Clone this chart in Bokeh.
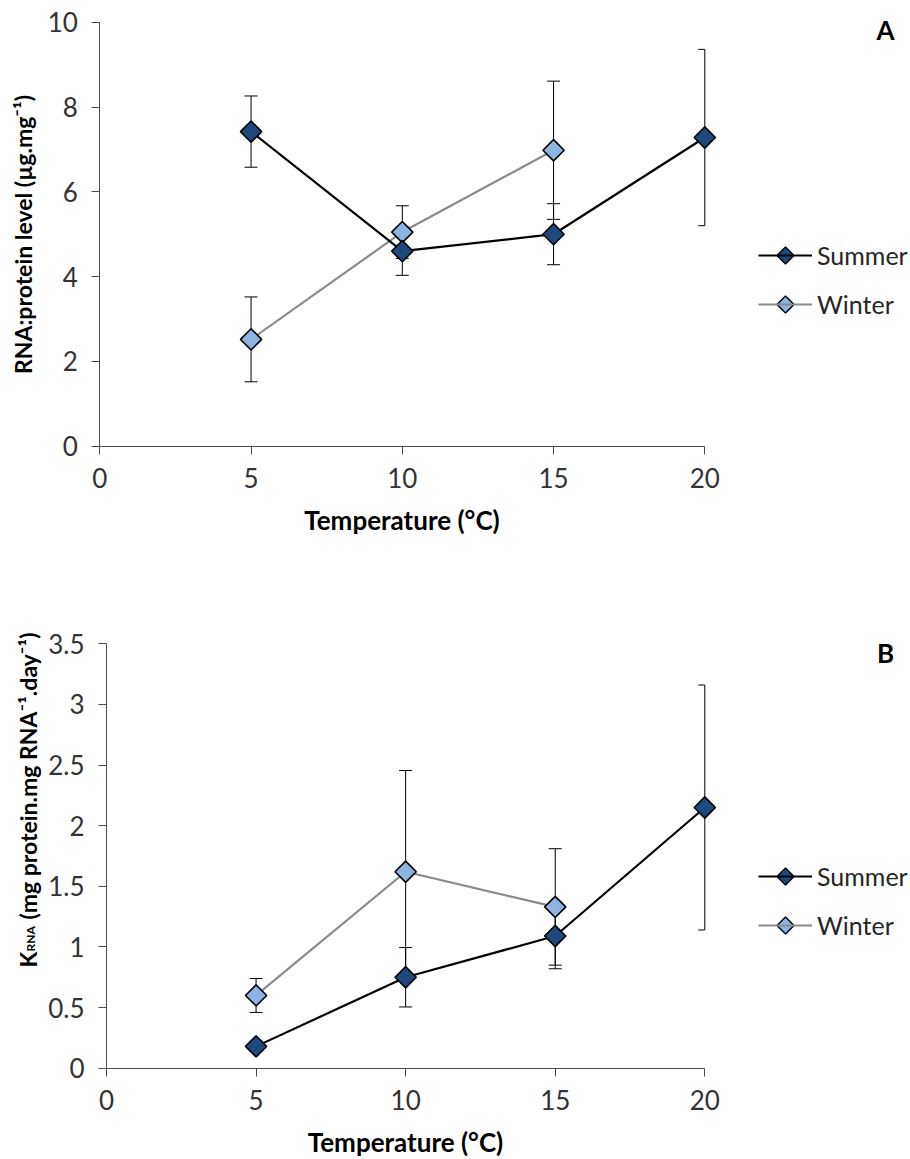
import numpy as np
from bokeh.plotting import figure
from bokeh.layouts import column
from bokeh.models import Range1d, FixedTicker, NumeralTickFormatter, Legend, LegendItem, Label
from bokeh.embed import file_html
from bokeh.resources import INLINE

# ---------------- data ----------------
X_TICKS = [0, 5, 10, 15, 20]
X_AXIS_MAX = 20

# Panel A: RNA:protein level (ug.mg-1)
A_SUMMER_X = [5, 10, 15, 20]
A_SUMMER = [7.42, 4.60, 5.00, 7.28]
A_SUMMER_ERR = [0.84, 0.57, 0.72, 2.08]
A_WINTER_X = [5, 10, 15]
A_WINTER = [2.52, 5.05, 6.98]
A_WINTER_ERR = [1.00, 0.62, 1.63]
A_Y_TICKS = [0, 2, 4, 6, 8, 10]
A_Y_MAX = 10

# Panel B: K_RNA (mg protein.mg RNA-1.day-1)
B_SUMMER_X = [5, 10, 15, 20]
B_SUMMER = [0.18, 0.75, 1.09, 2.15]
B_SUMMER_ERR = [0.04, 0.245, 0.27, 1.01]
B_WINTER_X = [5, 10, 15]
B_WINTER = [0.60, 1.62, 1.33]
B_WINTER_ERR = [0.14, 0.835, 0.48]
B_Y_TICKS = [0, 0.5, 1, 1.5, 2, 2.5, 3, 3.5]
B_Y_MAX = 3.5

SERIES_NAMES = ["Summer", "Winter"]
X_TITLE = "Temperature (°C)"
A_Y_TITLE = "RNA:protein level (µg.mg⁻¹)"

# ---------------- style / geometry (pixels) ----------------
W = 910
FONT = "Lato"
FS = "26px"
YFS = "23px"
SUMMER_FILL = "#1F497D"
WINTER_FILL = "#8DB4E2"
SUMMER_LINE = "#000000"
WINTER_LINE = "#8A8A8A"
AXIS_COLOR = "#4D4D4D"
TICK_TEXT = "#333333"


class Panel:
    def __init__(self, height, x0_px, x20_px, ytop_px, y0_px, y_max):
        self.h = height
        self.x0 = x0_px
        self.ppx = (x20_px - x0_px) / X_AXIS_MAX
        self.y0 = y0_px
        self.ppy = (y0_px - ytop_px) / y_max

    def dx(self, px):
        return (px - self.x0) / self.ppx

    def dy(self, py):
        return (self.y0 - py) / self.ppy


def make_fig(g, y_max, y_ticks):
    p = figure(width=W, height=g.h,
               x_range=Range1d(g.dx(0), g.dx(W)), y_range=Range1d(g.dy(g.h), g.dy(0)),
               output_backend="svg", toolbar_location=None, min_border=0)
    p.outline_line_color = None
    p.grid.visible = False
    p.background_fill_color = "white"
    p.border_fill_color = "white"
    for ax in (p.xaxis[0], p.yaxis[0]):
        ax.fixed_location = 0
        ax.axis_line_color = AXIS_COLOR
        ax.axis_line_width = 1
        ax.major_tick_line_color = AXIS_COLOR
        ax.major_tick_in = 0
        ax.major_tick_out = 8
        ax.minor_tick_line_color = None
        ax.major_label_text_font = FONT
        ax.major_label_text_font_size = FS
        ax.major_label_text_color = TICK_TEXT
        ax.axis_label_text_font = FONT
        ax.axis_label_text_font_style = "bold"
        ax.axis_label_text_color = "#000000"
    p.xaxis.axis_label_text_font_size = FS
    p.yaxis.axis_label_text_font_size = YFS
    p.xaxis.ticker = FixedTicker(ticks=X_TICKS)
    p.xaxis.bounds = (0, X_AXIS_MAX)
    p.xaxis.major_label_standoff = 14
    p.xaxis.axis_label_standoff = 12
    p.xaxis.axis_label = X_TITLE
    p.yaxis.ticker = FixedTicker(ticks=y_ticks)
    p.yaxis.bounds = (0, y_max)
    p.yaxis.major_label_standoff = 14
    p.yaxis.axis_label_standoff = 7
    p.yaxis.formatter = NumeralTickFormatter(format="0.[0]")
    return p


def draw_panel(p, g, sx, sy, se, wx, wy, we):
    cap = 6.5 / g.ppx
    for xs, ys, es in ((wx, wy, we), (sx, sy, se)):
        xs = np.asarray(xs, float)
        ys = np.asarray(ys, float)
        es = np.asarray(es, float)
        p.segment(x0=xs, y0=ys - es, x1=xs, y1=ys + es, line_color="black", line_width=1)
        cx0 = xs - cap
        cx1 = np.minimum(xs + cap, X_AXIS_MAX)
        p.segment(x0=cx0, y0=ys + es, x1=cx1, y1=ys + es, line_color="black", line_width=1)
        p.segment(x0=cx0, y0=ys - es, x1=cx1, y1=ys - es, line_color="black", line_width=1)
    wl = p.line(wx, wy, line_color=WINTER_LINE, line_width=2.2)
    p.scatter(wx, wy, marker="square", angle=np.pi / 4, size=15,
              fill_color=WINTER_FILL, line_color="black", line_width=1.6)
    sl = p.line(sx, sy, line_color=SUMMER_LINE, line_width=2.2)
    p.scatter(sx, sy, marker="square", angle=np.pi / 4, size=15,
              fill_color=SUMMER_FILL, line_color="black", line_width=1.6)
    return sl, wl


def add_legend(p, g, sl, wl, left_px, first_row_center_px):
    row_h, gap, glyph_w = 30, 19, 54
    bottom_px = first_row_center_px + row_h + gap + row_h / 2
    legend = Legend(items=[LegendItem(label=SERIES_NAMES[0], renderers=[sl]),
                           LegendItem(label=SERIES_NAMES[1], renderers=[wl])],
                    location=(left_px, g.h - bottom_px), orientation="vertical")
    legend.glyph_width = glyph_w
    legend.glyph_height = row_h
    legend.label_height = row_h
    legend.label_standoff = 5
    legend.spacing = gap
    legend.padding = 0
    legend.margin = 0
    legend.border_line_alpha = 0
    legend.background_fill_alpha = 0
    legend.label_text_font = FONT
    legend.label_text_font_size = "25px"
    legend.label_text_color = "#262626"
    p.add_layout(legend)
    # diamond symbols of the legend keys, drawn above the legend lines
    cx = g.dx(left_px + glyph_w / 2)
    rows = [first_row_center_px, first_row_center_px + row_h + gap]
    for fill, ry in zip((SUMMER_FILL, WINTER_FILL), rows):
        p.scatter([cx], [g.dy(ry)], marker="square", angle=np.pi / 4, size=12,
                  fill_color=fill, line_color="black", line_width=1.4, level="overlay")


def panel_letter(p, g, text, px, py):
    p.add_layout(Label(x=g.dx(px), y=g.dy(py), text=text, text_font=FONT, text_font_style="bold",
                       text_font_size="26px", text_align="center", text_baseline="middle",
                       text_color="black"))


# ---------------- panel A ----------------
ga = Panel(height=560, x0_px=99.3, x20_px=704.3, ytop_px=21.7, y0_px=445.7, y_max=A_Y_MAX)
pa = make_fig(ga, A_Y_MAX, A_Y_TICKS)
pa.yaxis.axis_label = A_Y_TITLE
sl, wl = draw_panel(pa, ga, A_SUMMER_X, A_SUMMER, A_SUMMER_ERR, A_WINTER_X, A_WINTER, A_WINTER_ERR)
add_legend(pa, ga, sl, wl, 758, 255)
panel_letter(pa, ga, "A", 885, 29)

# ---------------- panel B (pixel positions relative to its own top) ----------------
gb = Panel(height=599, x0_px=106, x20_px=704.3, ytop_px=83.3, y0_px=507.7, y_max=B_Y_MAX)
pb = make_fig(gb, B_Y_MAX, B_Y_TICKS)
sl, wl = draw_panel(pb, gb, B_SUMMER_X, B_SUMMER, B_SUMMER_ERR, B_WINTER_X, B_WINTER, B_WINTER_ERR)
add_legend(pb, gb, sl, wl, 758, 316)
panel_letter(pb, gb, "B", 885, 92)

# y-axis title of panel B, built from pieces (subscript RNA)
ylab_kw = dict(angle=np.pi / 2, text_align="left", text_baseline="alphabetic",
               text_font=FONT, text_font_style="bold", text_color="black")
pb.add_layout(Label(x=gb.dx(27), y=gb.dy(407), text="K", text_font_size=YFS, **ylab_kw))
pb.add_layout(Label(x=gb.dx(30), y=gb.dy(391), text="RNA", text_font_size="12px", **ylab_kw))
pb.add_layout(Label(x=gb.dx(27), y=gb.dy(359), text="(mg protein.mg RNA⁻¹.day⁻¹)",
                    text_font_size=YFS, **ylab_kw))

layout = column(pa, pb, spacing=0)
open("out.html", "w").write(file_html(layout, INLINE))
